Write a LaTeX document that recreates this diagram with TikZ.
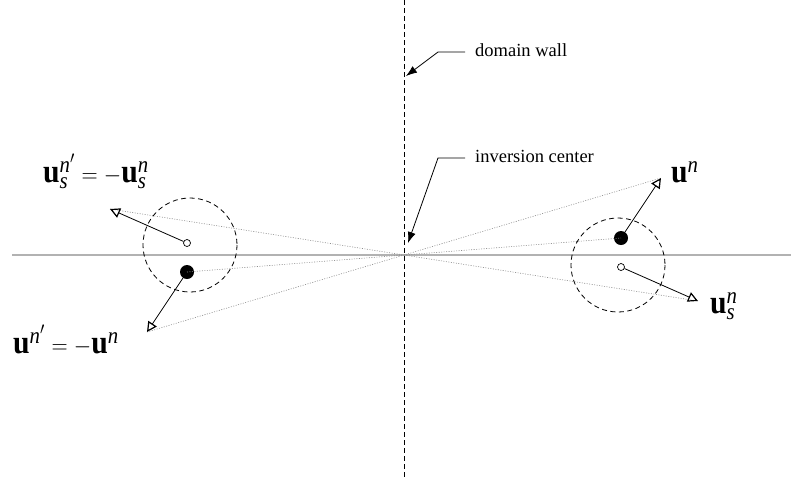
\documentclass[tikz,border=0pt]{standalone}
\usepackage{fontspec}
\setmainfont{Liberation Serif}
\usetikzlibrary{arrows.meta, positioning}
\newcommand{\vecmath}[1]{\scalebox{0.9}[1]{\thickmuskip=5mu\relax\medmuskip=4mu\relax$#1$}}

\begin{document}
\begin{tikzpicture}[x=1pt, y=-1pt,
  axisline/.style={gray!60, line width=1.6pt},
  wallline/.style={dash pattern=on 5pt off 3pt, line width=0.9pt},
  ray/.style={gray!90, dash pattern=on 1pt off 1.5pt, line width=0.6pt},
  site/.style={draw, dash pattern=on 5pt off 3.5pt, line width=0.8pt},
  vec/.style={-{Triangle[open, length=10pt, width=10pt, line width=1.2pt]}, line width=0.8pt},
  pointer/.style={-{Latex[length=11pt, width=8pt]}, line width=0.8pt},
  fulldot/.style={circle, fill, inner sep=0pt, minimum size=14pt},
  opendot/.style={circle, draw, fill=white, inner sep=0pt, minimum size=7pt, line width=0.7pt},
  lbl/.style={anchor=base west, inner sep=0pt, font=\fontsize{18.5}{22}\selectfont},
  vlbl/.style={anchor=base west, inner sep=0pt, font=\fontsize{33}{36}\selectfont}]
  \useasboundingbox (0,0) rectangle (791,483);

  % Axis and domain wall
  \coordinate (axL) at (12,255);
  \coordinate (axR) at (791,255);
  \coordinate (wallT) at (404,0);
  \coordinate (wallB) at (404,478);
  \draw[axisline] (axL) -- (axR);

  % Tips of the vectors
  \coordinate (usL) at (110,209);
  \coordinate (uL) at (147,332);
  \coordinate (uR) at (661,178);
  \coordinate (usR) at (698,301);

  % Sites
  \node[opendot] (sL) at (187,243) {};
  \node[fulldot] (mL) at (187,272) {};
  \node[fulldot] (mR) at (621,238) {};
  \node[opendot] (sR) at (621,267) {};

  % Rays through the inversion center
  \draw[ray] (usL) -- (usR);
  \draw[ray] (uL) -- (uR);
  \draw[ray] (mL.center) -- (mR.center);

  \draw[wallline] (wallT) -- (wallB);

  \draw[site] (190,245) circle (47);
  \draw[site] (618,265) circle (47);

  \draw[vec] (sL) -- (usL);
  \draw[vec] (mL) -- (uL);
  \draw[vec] (mR) -- (uR);
  \draw[vec] (sR) -- (usR);

  % Labels
  \node[vlbl] (tusL) at (43,182) {\vecmath{\mathbf{u}^{\mathit{n}'}_{\mathit{s}} = -\mathbf{u}^{\mathit{n}}_{\mathit{s}}}};
  \node[vlbl] (tuL) at (13,353) {\vecmath{\mathbf{u}^{\mathit{n}'} = -\mathbf{u}^{\mathit{n}}}};
  \node[vlbl] (tuR) at (671,182) {\vecmath{\mathbf{u}^{\mathit{n}}}};
  \node[vlbl] (tusR) at (710,313) {\vecmath{\mathbf{u}^{\mathit{n}}_{\mathit{s}}}};

  \node[lbl] (dw) at (475,56) {domain wall};
  \node[lbl] (inv) at (475,162) {inversion center};

  \coordinate (dwa) at (465,52);
  \coordinate (dwb) at (438,52);
  \coordinate (dwpt) at (406,76);
  \coordinate (inva) at (465,158);
  \coordinate (invb) at (438,158);
  \coordinate (invpt) at (408,243);
  \draw[pointer] (dwa) -- (dwb) -- (dwpt);
  \draw[pointer] (inva) -- (invb) -- (invpt);
\end{tikzpicture}
\end{document}
